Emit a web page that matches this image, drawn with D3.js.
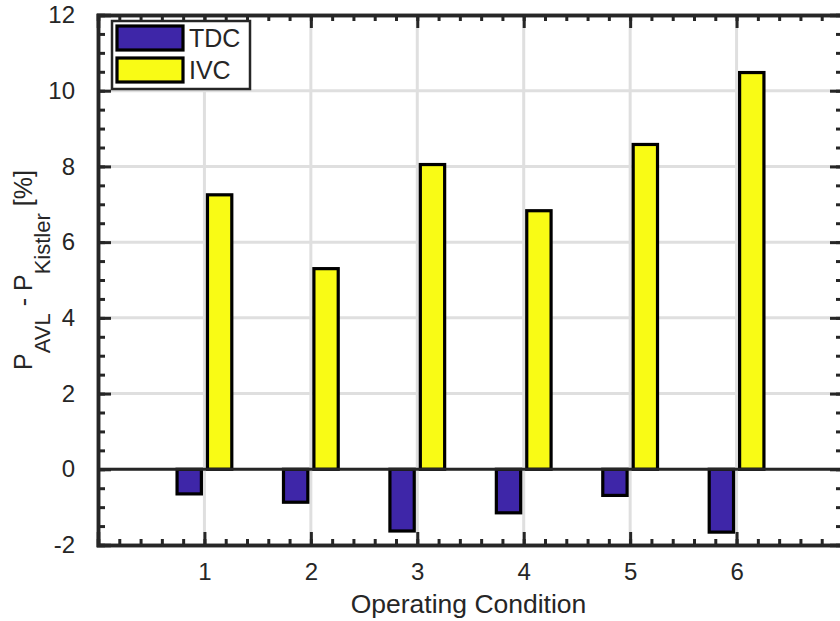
<!DOCTYPE html>
<html>
<head>
<meta charset="utf-8">
<title>AVL vs Kistler</title>
<style>
  body { margin: 0; background: #fff; }
  svg text { font-family: "Liberation Sans", Arial, Helvetica, sans-serif; fill: #262626; }
</style>
<script src="https://d3js.org/d3.v7.min.js"></script>
</head>
<body>
<script>

// data
const conditions = [1, 2, 3, 4, 5, 6];
const tdc = [-0.65, -0.87, -1.63, -1.15, -0.69, -1.66];
const ivc = [7.25, 5.3, 8.05, 6.83, 8.58, 10.48];
const seriesNames = ["TDC", "IVC"];
const seriesColors = ["#3e26a8", "#f9fb15"];
const yTicks = [-2, 0, 2, 4, 6, 8, 10, 12];

const W = 840, H = 621;
const axisColor = "#262626";

const svg = d3.select("body").append("svg")
  .attr("width", W).attr("height", H);

const x = d3.scaleLinear().domain([0, 7]).range([98, 843]);
const y = d3.scaleLinear().domain([-2, 12]).range([545, 15]);

// grid
svg.append("g").selectAll("line.gx").data(conditions).join("line")
  .attr("x1", d => x(d)).attr("x2", d => x(d))
  .attr("y1", y(12)).attr("y2", y(-2))
  .attr("stroke", "#dfdfdf").attr("stroke-width", 3);
svg.append("g").selectAll("line.gy").data(yTicks.slice(1, -1)).join("line")
  .attr("x1", x(0)).attr("x2", x(7))
  .attr("y1", d => y(d)).attr("y2", d => y(d))
  .attr("stroke", "#dfdfdf").attr("stroke-width", 3);

// bars (matlab grouped layout)
const groupW = 2 / 3.5;
const barW = groupW / 2 * 0.8;
const offsets = [-groupW / 4, groupW / 4];
const series = [tdc, ivc];

series.forEach((vals, s) => {
  svg.append("g").selectAll("rect").data(vals).join("rect")
    .attr("x", (d, i) => x(conditions[i] + offsets[s] - barW / 2))
    .attr("width", x(barW) - x(0))
    .attr("y", d => y(Math.max(0, d)))
    .attr("height", d => Math.abs(y(d) - y(0)))
    .attr("fill", seriesColors[s])
    .attr("stroke", "#000").attr("stroke-width", 3.2);
});

// baseline
svg.append("line")
  .attr("x1", x(0)).attr("x2", x(7))
  .attr("y1", y(0)).attr("y2", y(0))
  .attr("stroke", axisColor).attr("stroke-width", 3);

// axes box with inward ticks
const xMinor = d3.range(0, 7.001, 0.2);
const yMinor = d3.range(-2, 12.001, 0.5);
const fmt = d => String(d);

const bottom = d3.axisBottom(x).tickValues(xMinor).tickSize(-6).tickFormat("");
const bottomMaj = d3.axisBottom(x).tickValues(conditions).tickSize(-13).tickPadding(18).tickFormat(fmt);
const topAx = d3.axisTop(x).tickValues(xMinor).tickSize(-6).tickFormat("");
const topMaj = d3.axisTop(x).tickValues(conditions).tickSize(-13).tickFormat("");
const left = d3.axisLeft(y).tickValues(yMinor).tickSize(-7).tickFormat("");
const leftMaj = d3.axisLeft(y).tickValues(yTicks).tickSize(-13).tickPadding(23).tickFormat(fmt);
const right = d3.axisRight(y).tickValues(yMinor).tickSize(-7).tickFormat("");
const rightMaj = d3.axisRight(y).tickValues(yTicks).tickSize(-13).tickFormat("");

function styleAxis(g) {
  g.selectAll("path").attr("stroke", axisColor).attr("stroke-width", 3.5);
  g.selectAll("line").attr("stroke", axisColor).attr("stroke-width", 3);
  g.selectAll("text").attr("font-size", 24).attr("fill", axisColor)
    .style("font-family", '"Liberation Sans", Arial, sans-serif');
}

[[bottom, `translate(0,${y(-2)})`], [bottomMaj, `translate(0,${y(-2)})`],
 [topAx, `translate(0,${y(12)})`], [topMaj, `translate(0,${y(12)})`],
 [left, `translate(${x(0)},0)`], [leftMaj, `translate(${x(0)},0)`],
 [right, `translate(${x(7)},0)`], [rightMaj, `translate(${x(7)},0)`]]
  .forEach(([ax, tr]) => {
    svg.append("g").attr("transform", tr).call(ax).call(styleAxis);
  });

// axis labels
svg.append("text")
  .attr("x", (x(0) + x(7)) / 2 - 2).attr("y", 613)
  .attr("text-anchor", "middle").attr("font-size", 26.5)
  .text("Operating Condition");

const yl = svg.append("text")
  .attr("transform", `translate(32,${(y(-2) + y(12)) / 2 - 10}) rotate(-90)`)
  .attr("text-anchor", "middle").attr("font-size", 25);
yl.append("tspan").text("P");
yl.append("tspan").attr("dy", 18).attr("font-size", 22).text("AVL");
yl.append("tspan").attr("dy", -18).text("\u00a0-\u00a0P");
yl.append("tspan").attr("dy", 18).attr("font-size", 22).text("Kistler");
yl.append("tspan").attr("dy", -18).text("\u00a0[%]");

// legend
const lg = svg.append("g");
lg.append("rect")
  .attr("x", 112).attr("y", 21).attr("width", 138).attr("height", 68)
  .attr("fill", "#fff").attr("stroke", axisColor).attr("stroke-width", 2.5);
seriesNames.forEach((name, s) => {
  lg.append("rect")
    .attr("x", 117).attr("y", 26 + s * 32).attr("width", 66).attr("height", 24)
    .attr("fill", seriesColors[s]).attr("stroke", "#000").attr("stroke-width", 3.2);
  lg.append("text")
    .attr("x", 189).attr("y", 47 + s * 32)
    .attr("font-size", 25).text(name);
});

</script>
</body>
</html>
